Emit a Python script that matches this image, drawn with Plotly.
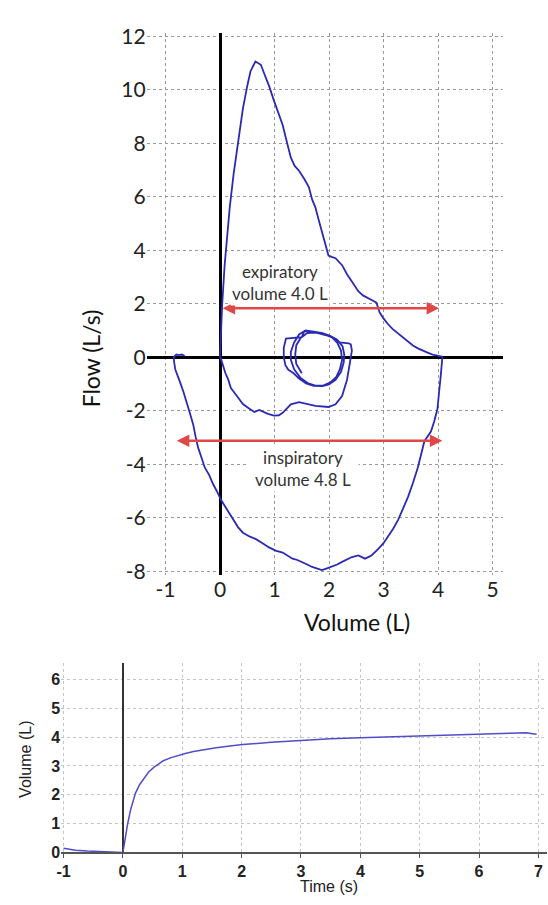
import plotly.graph_objects as go

# ---------------- Flow-volume loop data (Volume L, Flow L/s) ----------------
forced_volume = [0.0, 0.01, 0.02, 0.04, 0.085, 0.13, 0.18, 0.25, 0.33, 0.42, 0.5, 0.56, 0.65, 0.7, 0.75,
                 0.83, 0.9, 0.99, 1.07, 1.15, 1.22, 1.3, 1.37, 1.45, 1.55, 1.63, 1.69, 1.75, 1.81, 1.87,
                 1.93, 1.99, 2.05, 2.12, 2.24, 2.33, 2.42, 2.54, 2.63, 2.72, 2.8, 2.87, 2.93, 3.0, 3.08,
                 3.17, 3.27, 3.36, 3.45, 3.54, 3.63, 3.72, 3.81, 3.9, 3.96, 4.02, 4.08,
                 4.08, 4.07, 4.05, 4.02, 3.99, 3.93, 3.87, 3.75, 3.69, 3.63, 3.54, 3.45, 3.36, 3.27, 3.18,
                 3.09, 3.0, 2.9, 2.78, 2.66, 2.54, 2.42, 2.33, 2.24, 2.15, 2.05, 1.95, 1.87, 1.78, 1.69,
                 1.6, 1.51, 1.42, 1.33, 1.27, 1.15, 1.02, 0.9, 0.78, 0.66, 0.54, 0.42, 0.33, 0.24, 0.12,
                 0.02, -0.06, -0.13, -0.2, -0.28, -0.34, -0.4, -0.45, -0.49, -0.55, -0.61, -0.67, -0.73,
                 -0.78, -0.82, -0.84, -0.85, -0.8, -0.75, -0.7, -0.65]
forced_flow = [0.0, 0.6, 1.2, 1.97, 3.44, 4.65, 5.63, 6.85, 8.07, 9.29, 10.14, 10.69, 11.05, 11.0, 10.93,
               10.5, 10.14, 9.59, 9.1, 8.68, 8.1, 7.46, 7.15, 6.97, 6.65, 6.36, 5.9, 5.6, 5.14, 4.7,
               4.29, 3.8, 3.75, 3.7, 3.44, 3.1, 2.83, 2.46, 2.3, 2.22, 2.12, 2.04, 1.67, 1.45, 1.24,
               1.05, 0.88, 0.72, 0.57, 0.44, 0.33, 0.24, 0.17, 0.1, 0.08, 0.05, 0.02,
               0.0, -0.35, -0.7, -1.3, -1.93, -2.4, -2.78, -3.14, -3.6, -4.12, -4.7, -5.22, -5.65, -6.07, -6.4,
               -6.68, -6.95, -7.17, -7.41, -7.53, -7.41, -7.47, -7.55, -7.65, -7.75, -7.84, -7.9, -7.96, -7.9, -7.84,
               -7.75, -7.65, -7.58, -7.53, -7.45, -7.3, -7.23, -7.11, -6.95, -6.8, -6.7, -6.56, -6.35, -6.07, -5.7,
               -5.34, -5.0, -4.73, -4.4, -4.12, -3.75, -3.39, -2.95, -2.53, -2.1, -1.68, -1.3, -0.95,
               -0.7, -0.46, -0.2, 0.0, 0.1, 0.08, 0.1, 0.05]

tidal_volume = [0.0, 0.02, 0.05, 0.1, 0.15, 0.2, 0.3, 0.42, 0.54, 0.63, 0.72, 0.8, 0.88, 0.99, 1.08, 1.15,
                1.22, 1.3, 1.45, 1.6, 1.75, 1.99, 2.12, 2.24, 2.33, 2.38, 2.42, 2.4, 2.36,
                2.2, 2.1, 1.95, 1.8, 1.65, 1.55, 1.5, 1.35, 1.21, 1.17, 1.17, 1.2, 1.25, 1.35, 1.45, 1.58,
                1.72, 1.88, 2.0, 2.12, 2.22, 2.27, 2.28, 2.25, 2.15, 2.02, 1.88, 1.72, 1.57, 1.45, 1.36,
                1.3, 1.3, 1.36, 1.48, 1.62, 1.75, 1.9, 2.02, 2.13, 2.2, 2.24, 2.22, 2.15, 2.05, 1.9, 1.75,
                1.6, 1.48, 1.4, 1.38, 1.4, 1.5]
tidal_flow = [0.05, -0.1, -0.22, -0.6, -0.83, -1.15, -1.42, -1.75, -1.93, -2.05, -1.97, -2.05, -2.12, -2.18, -2.17, -2.08,
              -1.92, -1.76, -1.68, -1.75, -1.82, -1.86, -1.76, -1.45, -0.85, -0.25, 0.25, 0.48, 0.52,
              0.55, 0.7, 0.82, 0.9, 0.95, 0.98, 0.75, 0.72, 0.7, 0.35, 0.0, -0.3, -0.46, -0.6, -0.8, -0.98,
              -1.07, -1.08, -1.02, -0.85, -0.55, -0.2, 0.1, 0.4, 0.65, 0.8, 0.9, 0.96, 1.0, 0.85, 0.55,
              0.2, -0.1, -0.45, -0.78, -0.98, -1.06, -1.05, -0.95, -0.75, -0.45, -0.1, 0.25, 0.55, 0.75, 0.87, 0.92,
              0.9, 0.72, 0.45, 0.1, -0.25, -0.6]

volume_ticks = [-1, 0, 1, 2, 3, 4, 5]
volume_ticktext = ["-1", "0", "1", "2", "3", "4", "5"]
flow_ticks = [-8, -6, -4, -2, 0, 2, 4, 6, 8, 10, 12]
flow_ticktext = ["-8", "-6", "-4", "-2", "0", "2", "4", "6", "8", "10", "12"]

# arrows: (start volume, end volume, flow level)
expiratory_arrow = (0.02, 4.02, 1.83)
inspiratory_arrow = (-0.82, 4.08, -3.12)
expiratory_label = "expiratory<br>volume 4.0 L"
inspiratory_label = "inspiratory<br>volume 4.8 L"

# ---------------- Volume-time data ----------------
time_s = [-1.0, -0.8, -0.6, -0.4, -0.2, -0.05, 0.0, 0.02, 0.045, 0.08, 0.13, 0.21, 0.28, 0.35, 0.43,
          0.52, 0.6, 0.68, 0.8, 0.91, 1.05, 1.19, 1.38, 1.57, 1.8, 2.02, 2.5, 3.0, 3.5, 4.0, 4.5, 5.0,
          5.5, 6.0, 6.4, 6.7, 6.8, 6.9, 6.97]
volume_t = [0.15, 0.08, 0.05, 0.03, 0.02, 0.02, 0.0, 0.25, 0.58, 1.0, 1.48, 2.05, 2.35, 2.56, 2.78,
            2.95, 3.08, 3.18, 3.28, 3.35, 3.43, 3.5, 3.57, 3.63, 3.69, 3.74, 3.82, 3.89, 3.94, 3.98, 4.01, 4.04,
            4.07, 4.09, 4.11, 4.12, 4.15, 4.12, 4.1]
time_ticks = [-1, 0, 1, 2, 3, 4, 5, 6, 7]
time_ticktext = ["-1", "0", "1", "2", "3", "4", "5", "6", "7"]
vol_ticks = [0, 1, 2, 3, 4, 5, 6]
vol_ticktext = ["0", "1", "2", "3", "4", "5", "6"]

LOOP_COLOR = "#2a2ab4"
RED = "#e04848"
TOPFONT = "Lato, 'Open Sans', sans-serif"
BOTFONT = "'Liberation Sans', Arial, sans-serif"
W, H = 548, 905


def px_x(p):
    return p / W


def px_y(p):
    return (H - p) / H


fig = go.Figure()
fig.add_trace(go.Scatter(x=tidal_volume, y=tidal_flow, mode="lines",
                         line=dict(color=LOOP_COLOR, width=1.8), xaxis="x", yaxis="y", showlegend=False))
fig.add_trace(go.Scatter(x=forced_volume, y=forced_flow, mode="lines",
                         line=dict(color=LOOP_COLOR, width=1.8), xaxis="x", yaxis="y", showlegend=False))
fig.add_trace(go.Scatter(x=time_s, y=volume_t, mode="lines",
                         line=dict(color="#4e4ec8", width=1.5), xaxis="x2", yaxis="y2", showlegend=False))

annotations = []
for (v0, v1, f) in (expiratory_arrow, inspiratory_arrow):
    annotations.append(dict(x=v1, y=f, ax=v0, ay=f, xref="x", yref="y", axref="x", ayref="y",
                            text="", showarrow=True, arrowhead=2, arrowside="end+start",
                            arrowsize=1.0, arrowwidth=2.5, arrowcolor=RED))
annotations.append(dict(x=1.1, y=2.8, xref="x", yref="y", text=expiratory_label, showarrow=False,
                        xanchor="center", yanchor="middle",
                        font=dict(family=TOPFONT, size=17, color="#333"), align="center",
                        bgcolor="white"))
annotations.append(dict(x=1.52, y=-4.17, xref="x", yref="y", text=inspiratory_label, showarrow=False,
                        xanchor="center", yanchor="middle",
                        font=dict(family=TOPFONT, size=17, color="#333"), align="center",
                        bgcolor="white", width=108))
# axis titles
annotations.append(dict(x=px_x(87), y=px_y(355), xref="paper", yref="paper", text="Flow (L/s)",
                        xanchor="center", yanchor="middle",
                        textangle=-90, showarrow=False, font=dict(family=TOPFONT, size=23, color="#111")))
annotations.append(dict(x=px_x(355), y=px_y(625), xref="paper", yref="paper", text="Volume (L)",
                        xanchor="center", yanchor="middle",
                        showarrow=False, font=dict(family=TOPFONT, size=23, color="#111")))
annotations.append(dict(x=px_x(20), y=px_y(765), xref="paper", yref="paper", text="Volume (L)",
                        xanchor="center", yanchor="middle",
                        textangle=-90, showarrow=False, font=dict(family=BOTFONT, size=16, color="#222")))
annotations.append(dict(x=px_x(327), y=px_y(895), xref="paper", yref="paper", text="Time (s)",
                        xanchor="center", yanchor="middle",
                        showarrow=False, font=dict(family=BOTFONT, size=16, color="#222")))

fig.update_layout(
    width=W, height=H, margin=dict(l=0, r=0, t=0, b=0),
    paper_bgcolor="white", plot_bgcolor="white",
    annotations=annotations,
    xaxis=dict(domain=[px_x(143), px_x(503)], range=[-1.345, 5.2], anchor="y",
               tickvals=volume_ticks, ticktext=volume_ticktext,
               showgrid=True, gridcolor="#9a9a9a", griddash="dot", gridwidth=1,
               zeroline=True, zerolinecolor="black", zerolinewidth=2.5,
               showline=False, ticks="", tickfont=dict(family=TOPFONT, size=21, color="#222")),
    yaxis=dict(domain=[px_y(577), px_y(23)], range=[-8.15, 12.1], anchor="x",
               tickvals=flow_ticks, ticktext=flow_ticktext,
               showgrid=True, gridcolor="#9a9a9a", griddash="dot", gridwidth=1,
               zeroline=True, zerolinecolor="black", zerolinewidth=2.5,
               showline=False, ticks="", tickfont=dict(family=TOPFONT, size=21, color="#222")),
    xaxis2=dict(domain=[px_x(56.7), px_x(547)], range=[-1.04, 7.145], anchor="y2",
                tickvals=time_ticks, ticktext=time_ticktext,
                showgrid=True, gridcolor="#c4c4c4", griddash="dot", gridwidth=1,
                zeroline=True, zerolinecolor="#333", zerolinewidth=1.6,
                showline=True, linecolor="#555", linewidth=1.5,
                ticks="outside", ticklen=4, tickcolor="#555",
                tickfont=dict(family=BOTFONT, size=16, color="#222", weight="bold")),
    yaxis2=dict(domain=[px_y(860.5), px_y(667)], range=[0, 6.56], anchor="x2",
                tickvals=vol_ticks, ticktext=vol_ticktext,
                showgrid=True, gridcolor="#c4c4c4", griddash="dot", gridwidth=1,
                zeroline=False, showline=False, ticks="",
                tickfont=dict(family=BOTFONT, size=16, color="#222", weight="bold")),
)

fig.write_html("out.html", config={"displayModeBar": False},
               post_script="document.body.style.margin='0';document.body.style.overflow='hidden';")
